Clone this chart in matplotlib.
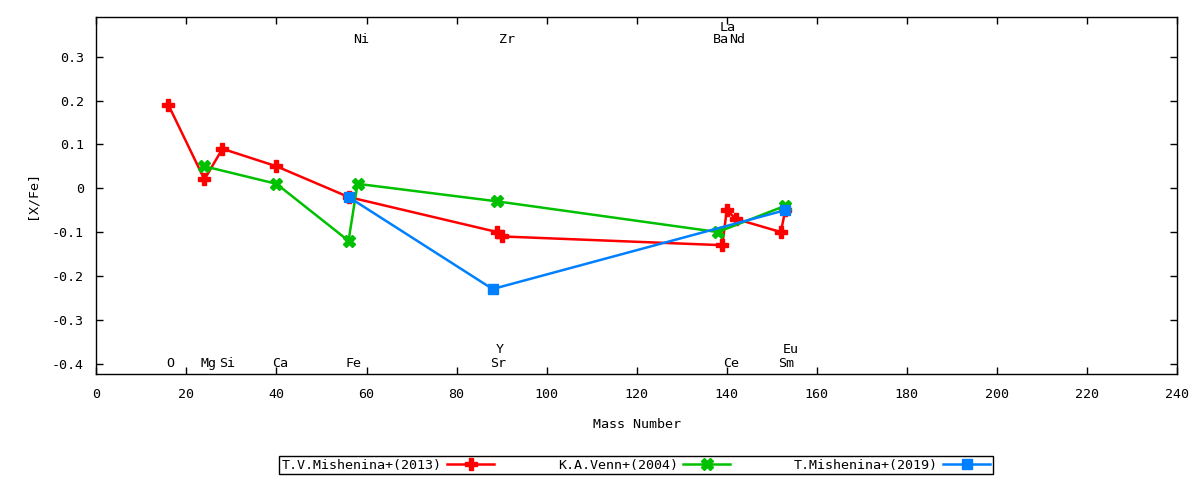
import matplotlib
matplotlib.use('Agg')
import matplotlib.pyplot as plt

# T.V.Mishenina+(2013)
mass_2013 = [16, 24, 28, 40, 56, 89, 90, 139, 140, 142, 152, 153]
xfe_2013 = [0.19, 0.02, 0.09, 0.05, -0.02, -0.10, -0.11, -0.13, -0.05, -0.07, -0.10, -0.05]

# K.A.Venn+(2004)
mass_2004 = [24, 40, 56, 58, 89, 138, 153]
xfe_2004 = [0.05, 0.01, -0.12, 0.01, -0.03, -0.10, -0.04]

# T.Mishenina+(2019)
mass_2019 = [56, 88, 153]
xfe_2019 = [-0.02, -0.23, -0.05]

# element names written inside the plot
elem_names = ['O', 'Mg', 'Si', 'Ca', 'Fe', 'Ni', 'Sr', 'Y', 'Zr',
              'Ba', 'La', 'Ce', 'Nd', 'Sm', 'Eu']
elem_x = [16.4, 24.8, 29.0, 40.9, 57.0, 58.9, 89.2, 89.6, 91.2,
          138.7, 140.1, 141.0, 142.4, 153.2, 154.2]
elem_y = [-0.40, -0.40, -0.40, -0.40, -0.40, 0.34, -0.40, -0.368, 0.34,
          0.34, 0.366, -0.40, 0.34, -0.40, -0.368]

x_ticks = list(range(0, 241, 20))
y_ticks = [-0.4, -0.3, -0.2, -0.1, 0, 0.1, 0.2, 0.3]
y_tick_labels = ['-0.4', '-0.3', '-0.2', '-0.1', '0', '0.1', '0.2', '0.3']

plt.rcParams['font.family'] = ['DejaVu Sans Mono']
plt.rcParams['font.size'] = 9.6

fig = plt.figure(figsize=(12, 4.8), dpi=100)
ax = fig.add_axes([0.0803, 0.2198, 0.9006, 0.7442])

ax.plot(mass_2013, xfe_2013, color='#ff0000', lw=1.8, marker='P', ms=8.5,
        label='T.V.Mishenina+(2013)')
ax.plot(mass_2004, xfe_2004, color='#00c000', lw=1.8, marker='X', ms=8.5,
        label='K.A.Venn+(2004)')
ax.plot(mass_2019, xfe_2019, color='#0080ff', lw=1.8, marker='s', ms=7.5,
        label='T.Mishenina+(2019)')

for name, xx, yy in zip(elem_names, elem_x, elem_y):
    ax.text(xx, yy, name, ha='center', va='center')

ax.set_xlim(0, 240)
ax.set_ylim(-0.425, 0.39)
ax.set_xticks(x_ticks)
ax.set_yticks(y_ticks)
ax.set_yticklabels(y_tick_labels)
ax.tick_params(direction='in', length=5, width=1, top=True, right=True,
               labeltop=False, labelright=False)
ax.tick_params(axis='x', pad=10)
ax.tick_params(axis='y', pad=9)
for sp in ax.spines.values():
    sp.set_linewidth(1)

ax.set_xlabel('Mass Number', va='center')
ax.xaxis.set_label_coords(0.5, -0.141)
ax.set_ylabel('[X/Fe]', va='center', ha='center')
ax.yaxis.set_label_coords(-0.0595, 0.5025)

leg = ax.legend(loc='center', bbox_to_anchor=(0.53, 0.031),
                bbox_transform=fig.transFigure, ncol=3, markerfirst=False,
                numpoints=1, handlelength=3.5, handletextpad=0.4,
                columnspacing=4.8, borderpad=0.2, fancybox=False,
                framealpha=1, edgecolor='black')
leg.get_frame().set_linewidth(1)

fig.savefig('out.png', dpi=100)
